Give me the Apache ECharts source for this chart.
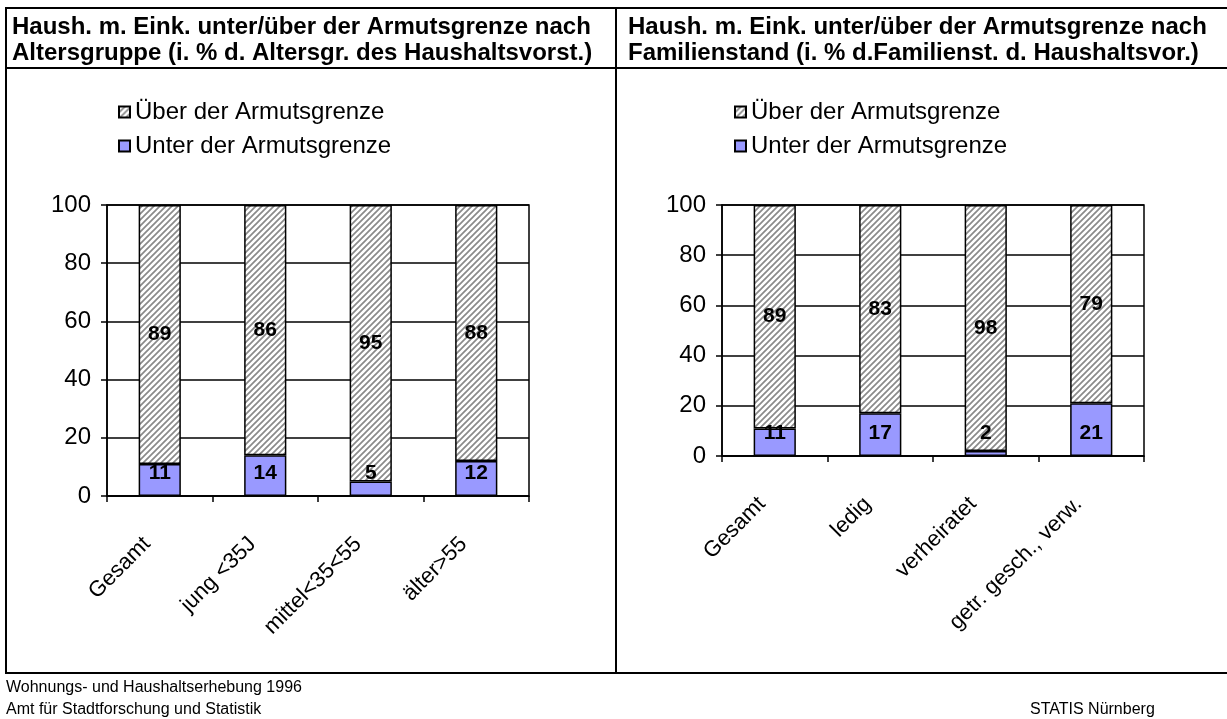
<!DOCTYPE html>
<html>
<head>
<meta charset="utf-8">
<script src="https://cdn.jsdelivr.net/npm/echarts@6/dist/echarts.min.js"></script>
<style>
html, body { margin: 0; padding: 0; background: #fff; }
#main { width: 1227px; height: 719px; }
</style>
</head>
<body>
<div id="main"></div>
<script>
// data
var alterKategorien = ['Gesamt', 'jung <35J', 'mittel<35<55', 'älter>55'];
var alterUnter = [11, 14, 5, 12];
var alterUeber = [89, 86, 95, 88];

var famKategorien = ['Gesamt', 'ledig', 'verheiratet', 'getr. gesch., verw.'];
var famUnter = [11, 17, 2, 21];
var famUeber = [89, 83, 98, 79];

var nameUeber = 'Über der Armutsgrenze';
var nameUnter = 'Unter der Armutsgrenze';

var font = '"Liberation Sans", Arial, sans-serif';

// hatched fill for the "Über" bars
function makeHatch() {
    var s = 6;
    var c = document.createElement('canvas');
    c.width = s;
    c.height = s;
    var ctx = c.getContext('2d');
    ctx.fillStyle = '#fff';
    ctx.fillRect(0, 0, s, s);
    ctx.strokeStyle = '#8a8a8a';
    ctx.lineWidth = 1.7;
    ctx.beginPath();
    ctx.moveTo(-1, 1); ctx.lineTo(1, -1);
    ctx.moveTo(0, s); ctx.lineTo(s, 0);
    ctx.moveTo(s - 1, s + 1); ctx.lineTo(s + 1, s - 1);
    ctx.stroke();
    return c;
}
var hatch = { image: makeHatch(), repeat: 'repeat' };

var chart = echarts.init(document.getElementById('main'));

function xAxisFor(idx, cats) {
    return {
        type: 'category',
        gridIndex: idx,
        data: cats,
        axisLine: { lineStyle: { color: '#000', width: 1.5 } },
        axisTick: { show: true, length: 6, lineStyle: { color: '#000', width: 1.5 } },
        axisLabel: { rotate: 45, margin: 32, padding: [0, 18, 0, 0], fontSize: 22, color: '#000', fontFamily: font, interval: 0 }
    };
}

function yAxisFor(idx) {
    return {
        type: 'value',
        gridIndex: idx,
        min: 0,
        max: 100,
        interval: 20,
        axisLine: { show: true, lineStyle: { color: '#000', width: 1.5 } },
        axisTick: { show: true, length: 6, lineStyle: { color: '#000', width: 1.5 } },
        splitLine: { lineStyle: { color: '#000', width: 1.5 } },
        axisLabel: { margin: 16, fontSize: 24, color: '#000', fontFamily: font }
    };
}

function barsFor(idx, unter, ueber) {
    var lbl = { show: true, fontSize: 21, fontWeight: 'bold', color: '#000', fontFamily: font };
    return [
        {
            name: nameUnter, type: 'bar', stack: 's' + idx,
            xAxisIndex: idx, yAxisIndex: idx, barWidth: '40%',
            data: unter,
            itemStyle: { color: '#9999ff', borderColor: '#000', borderWidth: 1.5 },
            label: Object.assign({ position: 'insideBottom', distance: 12 }, lbl)
        },
        {
            name: nameUeber, type: 'bar', stack: 's' + idx,
            xAxisIndex: idx, yAxisIndex: idx, barWidth: '40%',
            data: ueber,
            itemStyle: { color: hatch, borderColor: '#000', borderWidth: 1.5 },
            label: Object.assign({ position: 'inside' }, lbl)
        }
    ];
}

function legendAt(left) {
    return {
        orient: 'vertical',
        left: left,
        top: 95,
        data: [nameUeber, nameUnter],
        icon: 'rect',
        itemWidth: 11,
        itemHeight: 11,
        itemGap: 10,
        selectedMode: false,
        textStyle: { fontSize: 24, color: '#000', fontFamily: font }
    };
}

var titleStyle = { fontSize: 24, fontWeight: 'bold', color: '#000', fontFamily: font, lineHeight: 26 };

var option = {
    animation: false,
    backgroundColor: '#fff',
    title: [
        { text: 'Haush. m. Eink. unter/über der Armutsgrenze nach\nAltersgruppe (i. % d. Altersgr. des Haushaltsvorst.)',
          left: 8, top: 10, padding: 4, textStyle: titleStyle },
        { text: 'Haush. m. Eink. unter/über der Armutsgrenze nach\nFamilienstand (i. % d.Familienst. d. Haushaltsvor.)',
          left: 624, top: 10, padding: 4, textStyle: titleStyle }
    ],
    legend: [legendAt(113), legendAt(729)],
    grid: [
        { left: 107, top: 205, width: 422, height: 291, show: true, borderColor: '#000', borderWidth: 1.5 },
        { left: 722, top: 205, width: 422, height: 251, show: true, borderColor: '#000', borderWidth: 1.5 }
    ],
    xAxis: [xAxisFor(0, alterKategorien), xAxisFor(1, famKategorien)],
    yAxis: [yAxisFor(0), yAxisFor(1)],
    series: barsFor(0, alterUnter, alterUeber).concat(barsFor(1, famUnter, famUeber)),
    graphic: [
        { type: 'rect', shape: { x: 6, y: 8, width: 1240, height: 665 }, style: { fill: 'none', stroke: '#000', lineWidth: 2 } },
        { type: 'line', shape: { x1: 6, y1: 68, x2: 1227, y2: 68 }, style: { stroke: '#000', lineWidth: 2 } },
        { type: 'line', shape: { x1: 616, y1: 8, x2: 616, y2: 673 }, style: { stroke: '#000', lineWidth: 2 } },
        { type: 'text', left: 6, top: 680, style: { text: 'Wohnungs- und Haushaltserhebung 1996', fontSize: 16, fill: '#000', fontFamily: font } },
        { type: 'text', left: 6, top: 702, style: { text: 'Amt für Stadtforschung und Statistik', fontSize: 16, fill: '#000', fontFamily: font } },
        { type: 'text', left: 1030, top: 702, style: { text: 'STATIS Nürnberg', fontSize: 16, fill: '#000', fontFamily: font } }
    ]
};

option && chart.setOption(option);
</script>
</body>
</html>
